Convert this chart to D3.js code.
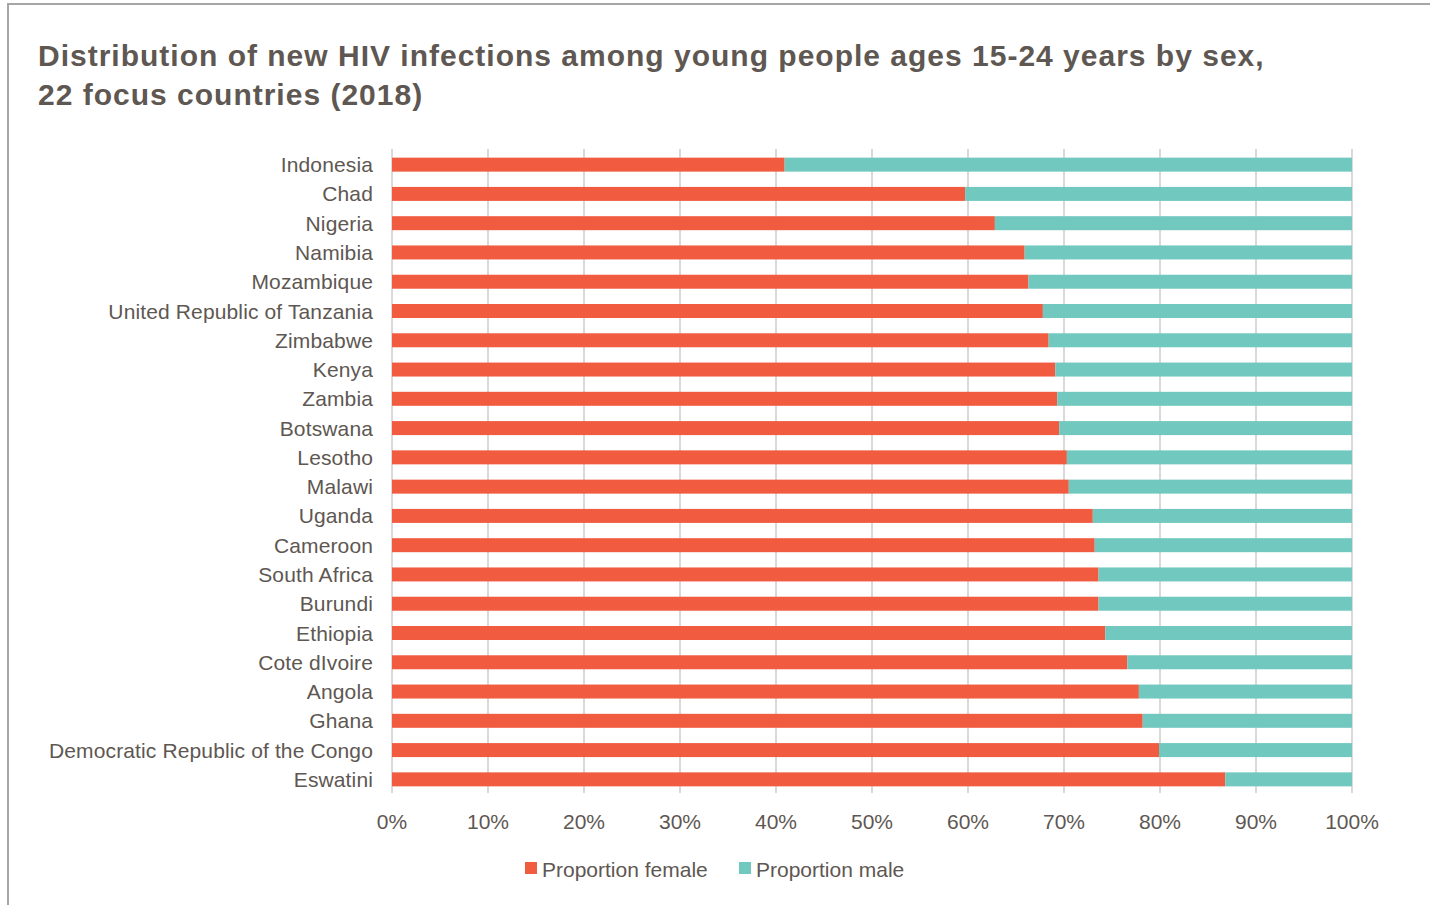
<!DOCTYPE html>
<html>
<head>
<meta charset="utf-8">
<script src="https://cdn.jsdelivr.net/npm/d3@7/dist/d3.min.js"></script>
<style>
  html, body { margin: 0; padding: 0; background: #fff; }
  svg { display: block; font-family: "Liberation Sans", Arial, sans-serif; }
</style>
</head>
<body>
<svg id="chart" width="1430" height="905"></svg>
<script>
const titleLines = [
  "Distribution of new HIV infections among young people ages 15-24 years by sex,",
  "22 focus countries (2018)"
];
const countries = [
  "Indonesia", "Chad", "Nigeria", "Namibia", "Mozambique",
  "United Republic of Tanzania", "Zimbabwe", "Kenya", "Zambia", "Botswana",
  "Lesotho", "Malawi", "Uganda", "Cameroon", "South Africa", "Burundi",
  "Ethiopia", "Cote dIvoire", "Angola", "Ghana",
  "Democratic Republic of the Congo", "Eswatini"
];
const proportionFemale = [
  0.409, 0.597, 0.628, 0.659, 0.663,
  0.678, 0.684, 0.691, 0.693, 0.695,
  0.703, 0.705, 0.730, 0.732, 0.736, 0.736,
  0.743, 0.766, 0.778, 0.782,
  0.799, 0.868
];
const proportionMale = proportionFemale.map(v => 1 - v);
const seriesNames = ["Proportion female", "Proportion male"];
const seriesColors = ["#F15C41", "#71C8BF"];
const tickValues = [0, 0.1, 0.2, 0.3, 0.4, 0.5, 0.6, 0.7, 0.8, 0.9, 1.0];

const textColor = "#5E5752";
const svg = d3.select("#chart");

// frame
svg.append("path")
  .attr("d", "M8,905 L8,4 L1430,4")
  .attr("fill", "none")
  .attr("stroke", "#A6A6A6")
  .attr("stroke-width", 2);

// title
svg.append("g").selectAll("text").data(titleLines).join("text")
  .attr("x", 38)
  .attr("y", (d, i) => 66 + i * 39)
  .attr("font-size", 30)
  .attr("font-weight", "bold")
  .attr("letter-spacing", "1px")
  .attr("fill", textColor)
  .text(d => d);

const x = d3.scaleLinear().domain([0, 1]).range([392, 1352]);
const y = d3.scaleBand().domain(countries).range([150, 794])
  .paddingInner(0.522).paddingOuter(0.261);

// gridlines
svg.append("g").selectAll("line").data(tickValues).join("line")
  .attr("x1", d => x(d)).attr("x2", d => x(d))
  .attr("y1", 149).attr("y2", 793)
  .attr("stroke", "#D9D9D9")
  .attr("stroke-width", 2);

// stacked bars
const rows = countries.map((c, i) => ({ country: c, female: proportionFemale[i], male: proportionMale[i] }));
const stack = d3.stack().keys(["female", "male"]);
const stacked = stack(rows);

svg.append("g").selectAll("g").data(stacked).join("g")
  .attr("fill", (d, i) => seriesColors[i])
  .selectAll("rect").data(d => d).join("rect")
  .attr("x", d => x(d[0]))
  .attr("width", d => x(d[1]) - x(d[0]))
  .attr("y", d => y(d.data.country))
  .attr("height", y.bandwidth());

// category labels
svg.append("g").selectAll("text").data(countries).join("text")
  .attr("x", 373)
  .attr("y", d => y(d) + y.bandwidth() / 2)
  .attr("dy", "0.36em")
  .attr("text-anchor", "end")
  .attr("font-size", 21)
  .attr("letter-spacing", "0.13px")
  .attr("fill", textColor)
  .text(d => d);

// x axis tick labels
const fmt = d3.format(".0%");
svg.append("g").selectAll("text").data(tickValues).join("text")
  .attr("x", d => x(d))
  .attr("y", 829)
  .attr("text-anchor", "middle")
  .attr("font-size", 21)
  .attr("fill", textColor)
  .text(d => fmt(d));

// legend
const legendX = [525, 739];
const lg = svg.append("g").selectAll("g").data(seriesNames).join("g")
  .attr("transform", (d, i) => `translate(${legendX[i]},862)`);
lg.append("rect")
  .attr("width", 12).attr("height", 12)
  .attr("fill", (d, i) => seriesColors[i]);
lg.append("text")
  .attr("x", 17).attr("y", 15)
  .attr("font-size", 21)
  .attr("fill", textColor)
  .text(d => d);
</script>
</body>
</html>
